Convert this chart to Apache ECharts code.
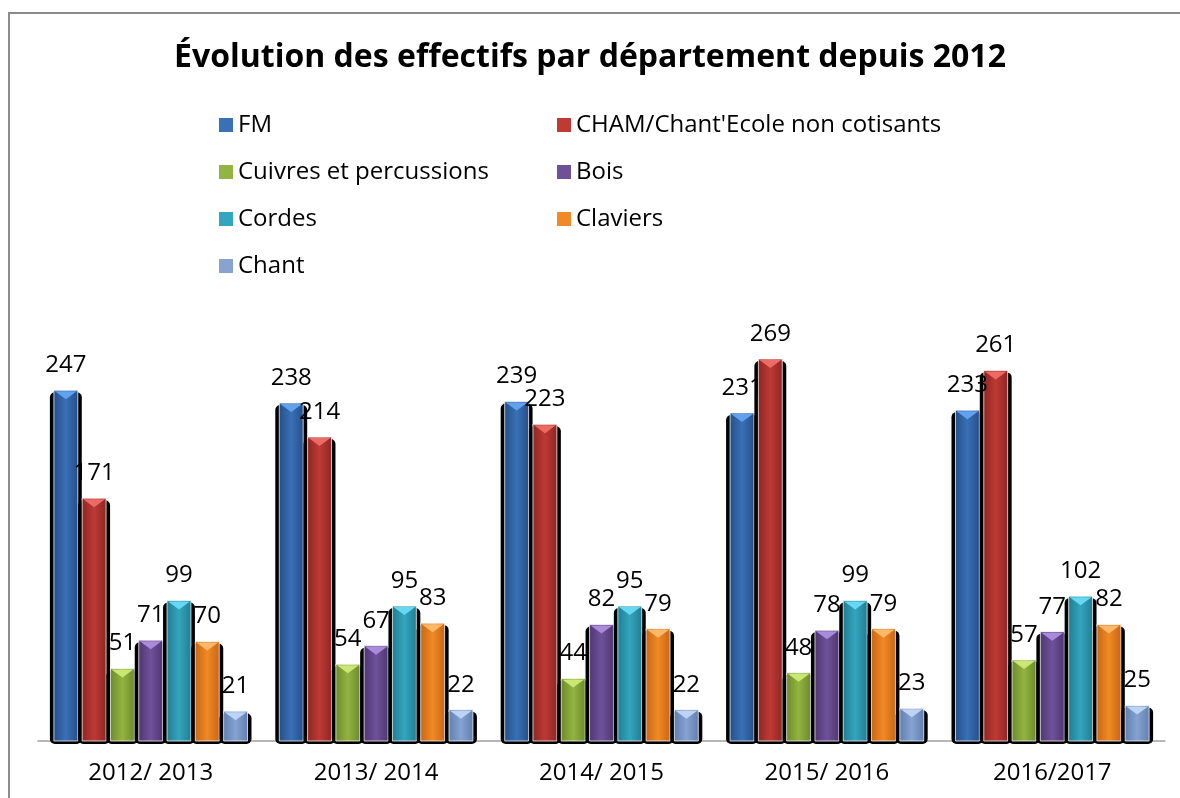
<!DOCTYPE html>
<html>
<head>
<meta charset="utf-8">
<title>Évolution des effectifs</title>
<script src="https://cdn.jsdelivr.net/npm/echarts@6/dist/echarts.min.js"></script>
<style>
  html, body { margin: 0; padding: 0; background: #fff; }
  #chart { width: 1180px; height: 798px; }
</style>
</head>
<body>
<div id="chart"></div>
<script>
var annees = ['2012/ 2013', '2013/ 2014', '2014/ 2015', '2015/ 2016', '2016/2017']
var departements = ['FM', "CHAM/Chant'Ecole non cotisants", 'Cuivres et percussions', 'Bois', 'Cordes', 'Claviers', 'Chant']
var fm = [247, 238, 239, 231, 233]
var cham = [171, 214, 223, 269, 261]
var cuivres = [51, 54, 44, 48, 57]
var bois = [71, 67, 82, 78, 77]
var cordes = [99, 95, 95, 99, 102]
var claviers = [70, 83, 79, 79, 82]
var chant = [21, 22, 22, 23, 25]
var effectifs = [fm, cham, cuivres, bois, cordes, claviers, chant]

// [bord sombre, centre, pointe claire]
var teintes = [
  ['#234f8a', '#3a70b6', '#62a2ec'],
  ['#8f2522', '#bd3a35', '#ec6b64'],
  ['#6c8a2a', '#93b441', '#c9e773'],
  ['#4f3672', '#6f519a', '#a98adb'],
  ['#1f7d92', '#34a5be', '#66d8f2'],
  ['#c86512', '#f08a26', '#ffb868'],
  ['#5f7fb0', '#86a3d1', '#bdd3f3']
]

var police = '"Open Sans", "Noto Sans", sans-serif'

function dessinBarre (k) {
  return function (params, api) {
    var cat = api.value(0)
    var val = api.value(1)
    var bas = api.coord([cat, 0])
    var haut = api.coord([cat, val])
    var bande = api.size([1, 0])[0]
    var pas = bande * 0.1255
    var larg = bande * 0.106
    var cx = bas[0] + (k - 3) * pas
    var x = cx - larg / 2
    var h = bas[1] - haut[1]
    var t = teintes[k]
    return {
      type: 'group',
      children: [
        {
          type: 'rect',
          shape: { x: x - 4, y: haut[1] + 2, width: larg + 8, height: h + 1, r: 5 },
          style: { fill: '#000' }
        },
        {
          type: 'rect',
          shape: { x: x, y: haut[1], width: larg, height: h },
          style: {
            fill: {
              type: 'linear', x: 0, y: 0, x2: 1, y2: 0,
              colorStops: [
                { offset: 0, color: t[0] },
                { offset: 0.5, color: t[1] },
                { offset: 1, color: t[0] }
              ]
            },
            stroke: 'rgba(255,255,255,0.75)',
            lineWidth: 1
          }
        },
        {
          type: 'polygon',
          shape: { points: [[x + 1, haut[1] + 1], [x + larg - 1, haut[1] + 1], [cx, haut[1] + 9]] },
          style: { fill: t[2] }
        },
        {
          type: 'text',
          z2: 10,
          style: {
            text: String(val),
            x: cx,
            y: haut[1] - 25,
            align: 'center',
            verticalAlign: 'middle',
            font: '24px ' + police,
            fill: '#000'
          }
        }
      ]
    }
  }
}

var series = departements.map(function (nom, k) {
  return {
    name: nom,
    type: 'custom',
    clip: false,
    itemStyle: { color: teintes[k][1] },
    encode: { x: 0, y: 1 },
    renderItem: dessinBarre(k),
    data: effectifs[k].map(function (v, i) { return [i, v] })
  }
})

var legendeCommune = {
  orient: 'vertical',
  top: 113,
  padding: 0,
  itemWidth: 14,
  itemHeight: 14,
  itemGap: 23,
  icon: 'rect',
  textStyle: { fontSize: 24, fontFamily: police, color: '#000' }
}

var myChart = echarts.init(document.getElementById('chart'))
var option = {
  backgroundColor: '#fff',
  animation: false,
  title: {
    text: 'Évolution des effectifs par département depuis 2012',
    left: 'center',
    top: 42,
    padding: 0,
    textStyle: { fontSize: 32, fontWeight: 'bold', fontFamily: police, color: '#000' }
  },
  graphic: [{
    type: 'rect',
    shape: { x: 9, y: 13, width: 1200, height: 800 },
    style: { fill: null, stroke: '#8c8c8c', lineWidth: 2 },
    silent: true
  }],
  legend: [
    Object.assign({}, legendeCommune, { left: 219, data: [departements[0], departements[2], departements[4], departements[6]] }),
    Object.assign({}, legendeCommune, { left: 557, data: [departements[1], departements[3], departements[5]] })
  ],
  grid: {
    left: 38,
    right: 15,
    top: 315,
    bottom: 57,
    containLabel: false
  },
  xAxis: {
    type: 'category',
    data: annees,
    axisLine: { lineStyle: { color: '#a0a0a0', width: 1.5 } },
    axisTick: { show: false },
    axisLabel: { fontSize: 24, fontFamily: police, color: '#000', margin: 20 }
  },
  yAxis: {
    type: 'value',
    min: 0,
    max: 300,
    show: false,
    splitLine: { show: false }
  },
  series: series
}
myChart.setOption(option)
</script>
</body>
</html>
